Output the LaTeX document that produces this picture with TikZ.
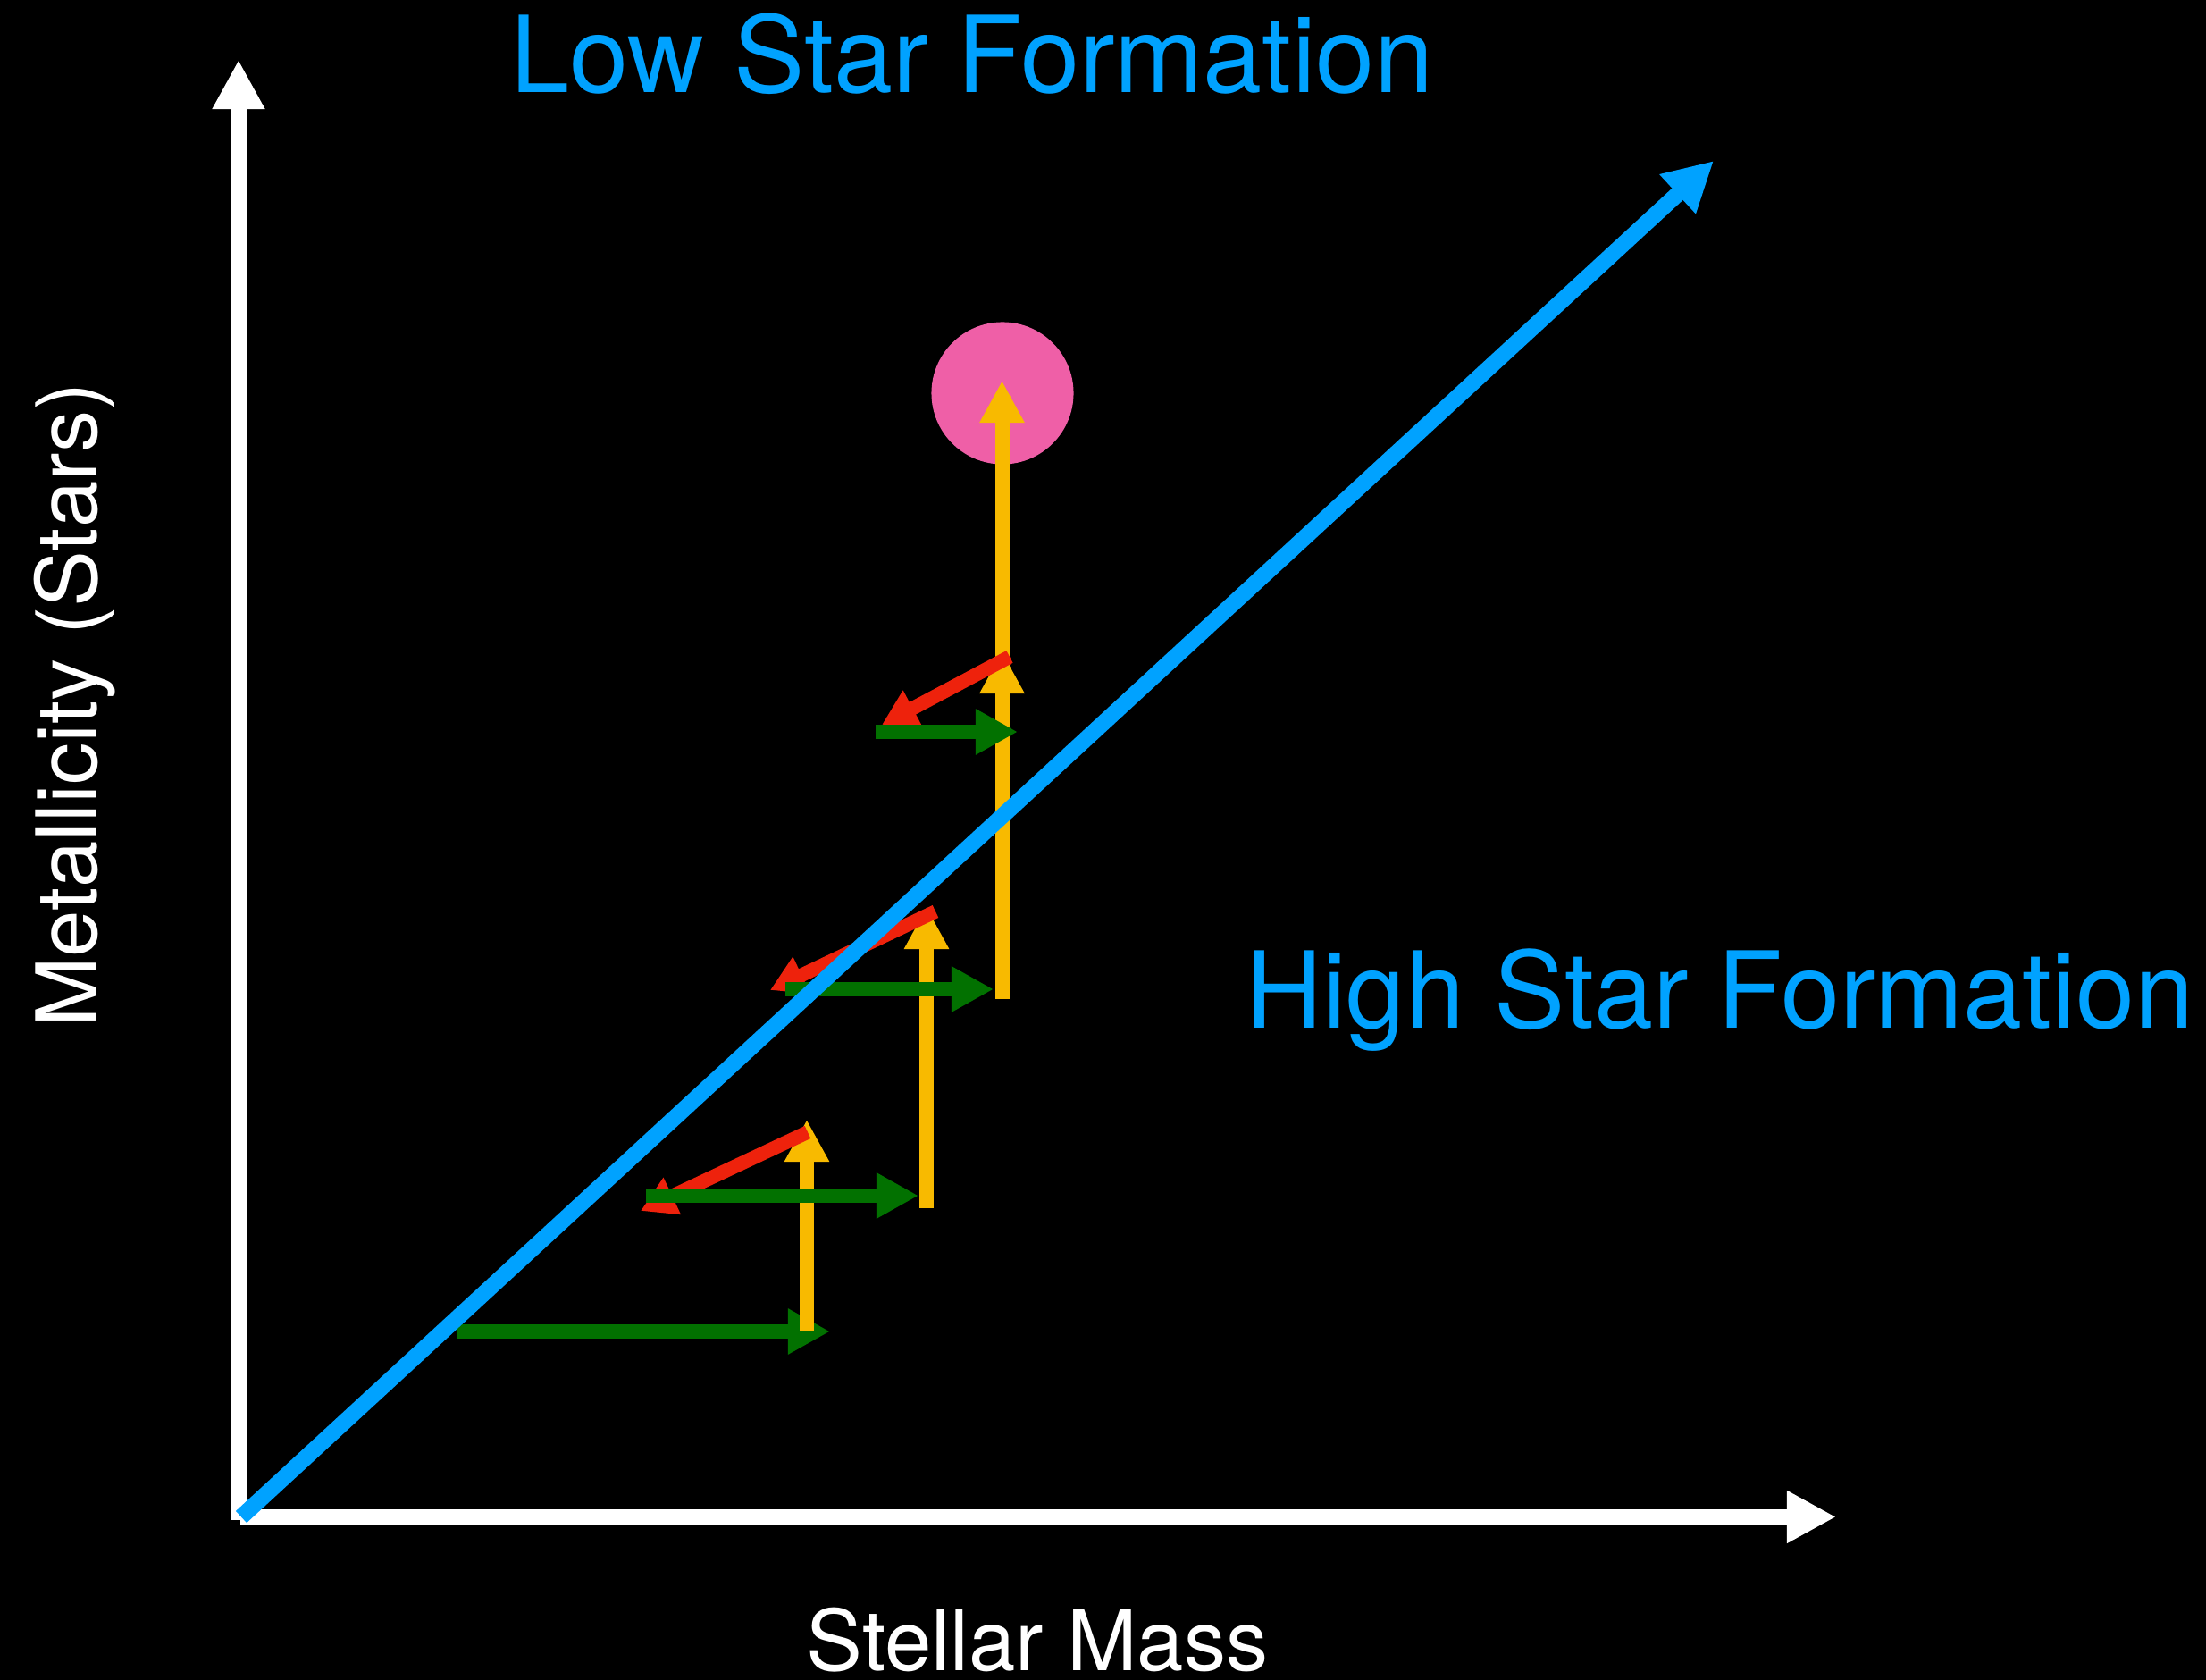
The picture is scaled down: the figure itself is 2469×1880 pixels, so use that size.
\documentclass[tikz,border=0pt]{standalone}
\usepackage{fontspec}
\setmainfont{TeX Gyre Heros}
\usetikzlibrary{arrows.meta}
\definecolor{kblue}{HTML}{00A2FF}
\definecolor{kred}{HTML}{EE220C}
\definecolor{kgreen}{HTML}{027100}
\definecolor{kyellow}{HTML}{F8BA00}
\definecolor{kpink}{HTML}{EF5FA7}
\tikzset{
  axisarrow/.style={draw=white, line width=5.1pt, -{Triangle[length=0.55cm,width=0.55cm]}},
  trendarrow/.style={draw=kblue, line width=5.1pt, -{Triangle[length=0.55cm,width=0.56cm]}},
  yarrow/.style={draw=kyellow, fill=kyellow, line width=4.55pt, -{Triangle[length=0.47cm,width=0.47cm]}},
  garrow/.style={draw=kgreen, fill=kgreen, line width=4.5pt, -{Triangle[length=0.47cm,width=0.48cm]}},
  rarrow/.style={draw=kred, fill=kred, line width=4.4pt, -{Triangle[length=0.39cm,width=0.43cm]}},
  bigtext/.style={text=kblue, font=\fontsize{33.8}{40}\selectfont, inner sep=0pt, anchor=base},
  axtext/.style={text=white, font=\fontsize{26.8}{32}\selectfont, inner sep=0pt, anchor=base}
}
\begin{document}
\begin{tikzpicture}[x=0.01cm, y=-0.01cm]
\fill[black] (0,0) rectangle (2469,1880);
\useasboundingbox (0,0) rectangle (2469,1880);
% coordinates
\coordinate (O) at (267,1701);
\coordinate (Ytop) at (267,67);
\coordinate (Xs) at (269,1697.5);
\coordinate (Xend) at (2055,1697.5);
\coordinate (Bs) at (270,1697.5);
\coordinate (Be) at (1918,180);
\coordinate (y1s) at (903,1489);  \coordinate (y1e) at (903,1253);
\coordinate (y2s) at (1037,1352); \coordinate (y2e) at (1037,1015);
\coordinate (y3s) at (1121.5,1118); \coordinate (y3e) at (1121.5,729);
\coordinate (y4e) at (1121.5,426);
\coordinate (g1s) at (511,1490);  \coordinate (g1e) at (929,1490);
\coordinate (g2s) at (723,1338);  \coordinate (g2e) at (1028,1338);
\coordinate (g3s) at (879,1107);  \coordinate (g3e) at (1112,1107);
\coordinate (g4s) at (980,819);   \coordinate (g4e) at (1139,819);
\coordinate (r1s) at (904,1267);  \coordinate (r1e) at (717,1355);
\coordinate (r2s) at (1047,1020); \coordinate (r2e) at (862,1108);
\coordinate (r3s) at (1130,735);  \coordinate (r3e) at (987,811);
% pink circle
\node[circle, fill=kpink, inner sep=0pt, minimum size=1.59cm] (pink) at (1122,440) {};
% axes
\draw[axisarrow] (O) -- (Ytop);
\draw[axisarrow] (Xs) -- (Xend);
% lower green then yellows
\draw[garrow] (g1s) -- (g1e);
\draw[yarrow] (y1s) -- (y1e);
\draw[yarrow] (y2s) -- (y2e);
\draw[yarrow] (y3s) -- (y3e);
\draw[yarrow] (y3s) -- (y4e);
% reds
\draw[rarrow] (r1s) -- (r1e);
\draw[rarrow] (r2s) -- (r2e);
\draw[rarrow] (r3s) -- (r3e);
% greens
\draw[garrow] (g2s) -- (g2e);
\draw[garrow] (g3s) -- (g3e);
\draw[garrow] (g4s) -- (g4e);
% blue trend
\draw[trendarrow] (Bs) -- (Be);
% texts
\node[bigtext] (low) at (1088,104) {Low Star Formation};
\node[bigtext] (high) at (1925,1151) {High Star Formation};
\node[axtext] (xlab) at (1161,1869) {Stellar Mass};
\node[axtext, rotate=90] (ylab) at (108,789) {Metallicity (Stars)};
\end{tikzpicture}
\end{document}
